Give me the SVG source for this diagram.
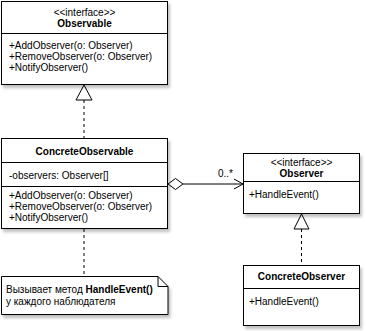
<svg xmlns="http://www.w3.org/2000/svg" width="366" height="331" viewBox="0 0 366 331">
<style>
.box{fill:#fff;stroke:#000;stroke-width:1}
.ln{stroke:#000;stroke-width:1;fill:none}
.dash{stroke:#000;stroke-width:1;fill:none;stroke-dasharray:3 3}
text{font-family:"Liberation Sans",Arial,sans-serif;font-size:10px;fill:#000}
.c{text-anchor:middle}
.b{font-weight:bold}
</style>
<defs>
<filter id="sh" x="-10%" y="-10%" width="130%" height="130%">
<feDropShadow dx="2" dy="3" stdDeviation="1.5" flood-color="#000" flood-opacity="0.25"/>
</filter>
</defs>
<rect width="366" height="331" fill="#fff"/>
<g id="connectors">
<path class="dash" d="M84 100V138.5"/>
<path class="box" d="M84 85L92 100H76Z"/>
<path class="dash" d="M301.5 229V265.5"/>
<path class="box" d="M301.5 214L309 229H294Z"/>
<path class="ln" d="M183 184H243M234 179L243 184L234 189"/>
<path class="box" d="M168 184L175.5 178.5L183 184L175.5 189.5Z"/>
<text x="218" y="177">0..*</text>
<path class="dash" d="M84 229V276.5"/>
</g>
<g id="observable">
<rect class="box" x="1.5" y="1.5" width="166" height="83" filter="url(#sh)"/>
<path class="ln" d="M1.5 33.5H167.5"/>
<text class="c" x="84.5" y="16">&lt;&lt;interface&gt;&gt;</text>
<text class="c b" x="84.5" y="27">Observable</text>
<text x="9" y="49">+AddObserver(o: Observer)</text>
<text x="9" y="60">+RemoveObserver(o: Observer)</text>
<text x="9" y="71">+NotifyObserver()</text>
</g>
<g id="concreteObservable">
<rect class="box" x="1.5" y="138.5" width="166" height="90" filter="url(#sh)"/>
<path class="ln" d="M1.5 162.5H167.5M1.5 186.5H167.5"/>
<text class="c b" x="84.5" y="155">ConcreteObservable</text>
<text x="9" y="179">-observers: Observer[]</text>
<text x="9" y="199">+AddObserver(o: Observer)</text>
<text x="9" y="210">+RemoveObserver(o: Observer)</text>
<text x="9" y="221">+NotifyObserver()</text>
</g>
<g id="observer">
<rect class="box" x="243.5" y="153.5" width="116" height="60" filter="url(#sh)"/>
<path class="ln" d="M243.5 181.5H359.5"/>
<text class="c" x="301.5" y="166">&lt;&lt;interface&gt;&gt;</text>
<text class="c b" x="301.5" y="177">Observer</text>
<text x="249" y="198">+HandleEvent()</text>
</g>
<g id="concreteObserver">
<rect class="box" x="243.5" y="265.5" width="116" height="60" filter="url(#sh)"/>
<path class="ln" d="M243.5 288.5H359.5"/>
<text class="c b" x="301.5" y="280">ConcreteObserver</text>
<text x="249" y="305">+HandleEvent()</text>
</g>
<g id="note">
<path class="box" d="M1.5 276.5H158L168 286.5V314.5H1.5Z" filter="url(#sh)"/>
<path class="ln" d="M158 276.5V286.5H168"/>
<text x="6" y="293">Вызывает метод <tspan class="b">HandleEvent()</tspan></text>
<text x="6" y="305">у каждого наблюдателя</text>
</g>
</svg>
